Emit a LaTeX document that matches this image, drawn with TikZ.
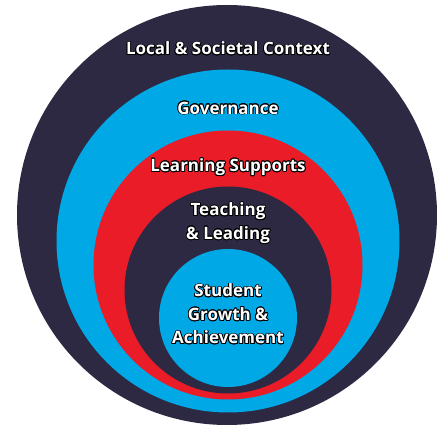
\documentclass[tikz,border=0pt]{standalone}
\usepackage{fontspec}
\setmainfont{Open Sans}
\usepackage[copies]{contour}
\contourlength{0.8pt}
\contournumber{16}
\definecolor{navy}{HTML}{2D2942}
\definecolor{skyb}{HTML}{00A8E6}
\definecolor{redc}{HTML}{E91C28}
\tikzset{
  ring/.style={circle, inner sep=0pt, minimum size=#1},
  lab/.style={text=white, font=\fontsize{17}{23.5}\selectfont\bfseries, align=center, inner sep=0pt},
}
\newcommand{\ol}[1]{\contour{black}{#1}}
\begin{document}
\begin{tikzpicture}[x=1pt,y=-1pt]
\useasboundingbox (0,0) rectangle (437,427);
\clip (0,0) rectangle (437,427);
\fill[white] (0,0) rectangle (437,427);
\node[ring=420pt, fill=navy] (c1) at (227,215) {};
\node[ring=343pt, fill=skyb] (c2) at (228,241) {};
\node[ring=269pt, fill=redc] (c3) at (228,265) {};
\node[ring=207pt, fill=navy] (c4) at (228,290) {};
\node[ring=138pt, fill=skyb] (c5) at (228,318) {};
\node[lab] (t1) at (228,49) {\ol{Local \& Societal Context}};
\node[lab] (t2) at (228,108.5) {\ol{Governance}};
\node[lab] (t3) at (228,167.5) {\ol{Learning Supports}};
\node[lab] (t4) at (228,223.5) {\ol{Teaching}\\\ol{\& Leading}};
\node[lab] (t5) at (228,314.5) {\ol{Student}\\\ol{Growth \&}\\\ol{Achievement}};
\end{tikzpicture}
\end{document}
